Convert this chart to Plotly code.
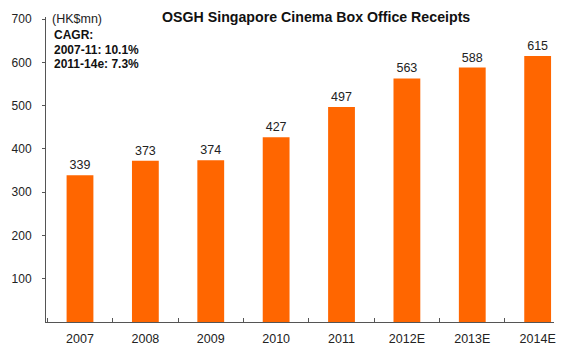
import plotly.graph_objects as go

years = ["2007", "2008", "2009", "2010", "2011", "2012E", "2013E", "2014E"]
receipts = [339, 373, 374, 427, 497, 563, 588, 615]
y_ticks = [100, 200, 300, 400, 500, 600, 700]
cagr_lines = ["CAGR:", "2007-11: 10.1%", "2011-14e: 7.3%"]

font = "Arial, Liberation Sans, sans-serif"

fig = go.Figure()
fig.add_trace(go.Bar(
    x=years, y=receipts,
    marker=dict(color="#FF6600", line=dict(width=0)),
    width=0.41,
    text=[str(v) for v in receipts],
    textposition="outside",
    textfont=dict(family=font, size=12.5, color="#222222"),
    cliponaxis=False,
))

fig.update_layout(
    width=568, height=352,
    margin=dict(l=42, r=14, t=14, b=30),
    paper_bgcolor="white", plot_bgcolor="white",
    showlegend=False,
    font=dict(family=font, size=12, color="#222222"),
)
fig.update_xaxes(
    type="category", range=[-0.52, 7.25], automargin=False,
    showline=True, linecolor="#555555", linewidth=1,
    ticks="inside", ticklen=4, tickcolor="#555555", tickson="boundaries",
    showgrid=False, ticklabelstandoff=5, ticklabeloverflow="allow",
    tickfont=dict(family=font, size=12.5, color="#222222"),
)
fig.update_yaxes(
    range=[0, 705], tickvals=y_ticks, automargin=True,
    showline=True, linecolor="#555555", linewidth=1,
    ticks="outside", ticklen=3, tickcolor="#555555",
    showgrid=False, zeroline=False, ticklabelstandoff=8, ticklabeloverflow="allow",
    tickfont=dict(family=font, size=12, color="#222222"),
)

fig.add_annotation(
    text="<b>OSGH Singapore Cinema Box Office Receipts</b>",
    xref="paper", yref="paper", x=0.531, y=1.0, xanchor="center", yanchor="middle",
    showarrow=False, font=dict(family=font, size=14.2, color="#111111"),
)
fig.add_annotation(
    text="(HK$mn)", xref="paper", yref="paper", x=0.008, y=0.994,
    xanchor="left", yanchor="middle", showarrow=False,
    font=dict(family=font, size=12.5, color="#222222"),
)
for line, yp in zip(cagr_lines, [0.942, 0.893, 0.845]):
    fig.add_annotation(
        text="<b>" + line + "</b>",
        xref="paper", yref="paper", x=0.012, y=yp,
        xanchor="left", yanchor="middle", align="left", showarrow=False,
        font=dict(family=font, size=12, color="#111111"),
    )

fig.write_html("out.html")
